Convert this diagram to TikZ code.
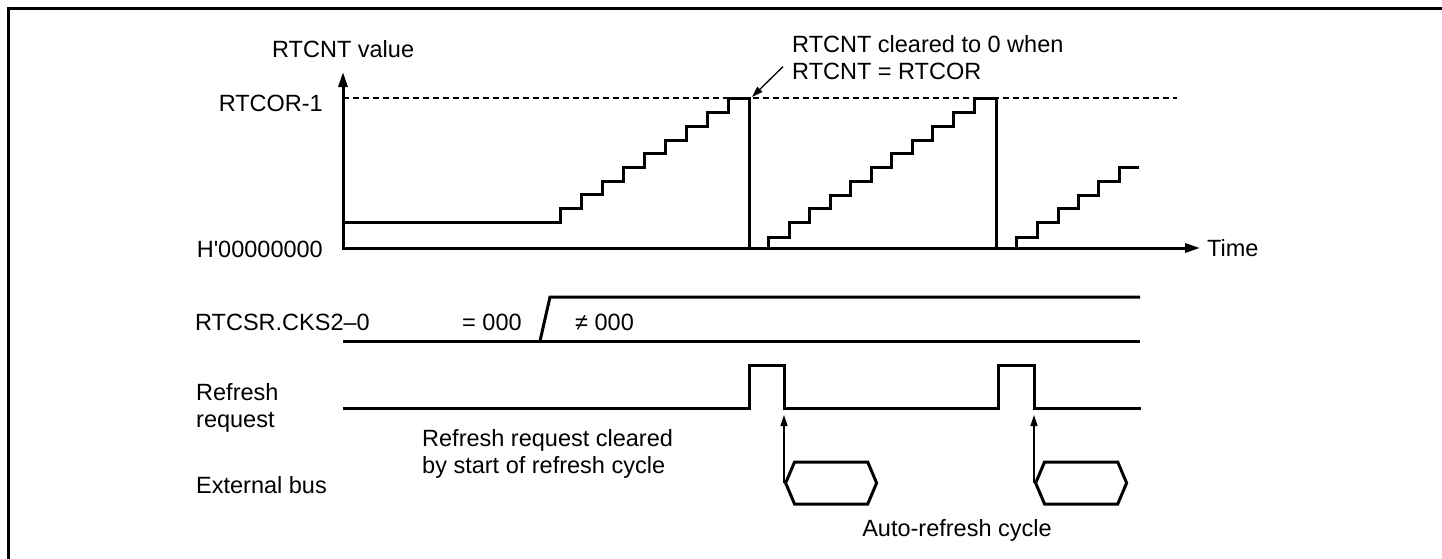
\documentclass[tikz,border=0pt]{standalone}
\usepackage{fontspec}
\setmainfont{Liberation Sans}
\usetikzlibrary{arrows.meta,shapes.symbols}
\begin{document}
\begin{tikzpicture}[x=1pt,y=-1pt,
    wave/.style={line width=3pt,line join=miter},
    lbl/.style={inner sep=0pt,font=\fontsize{23.5}{27}\selectfont},
    pointer/.style={line width=1.3pt,-{Triangle[length=11pt,width=7pt]}},
    bus/.style={draw,line width=3pt,signal,signal to=west and east,signal pointer angle=134,
                minimum width=91pt,minimum height=42pt,inner sep=0pt}]
    \useasboundingbox (0,0) rectangle (1442,558);
    \draw[line width=3pt] (8.5,600) -- (8.5,8.5) -- (1480,8.5);
    % RTCNT counter
    \draw[wave,{Triangle[length=15pt,width=9pt]}-{Triangle[length=15pt,width=9pt]}] (343,72) -- (343,248) -- (1200,248);
    \draw[dash pattern=on 6pt off 4pt,line width=1.4pt] (343,98) -- (1177,98);
    \draw[wave] (343,222) -- (560,222) |- (581,208) |- (602,194) |- (623,181) |- (644,167) |- (665,153)
        |- (686,140) |- (707,126) |- (728,112) |- (749,98) -- (749,248);
    \draw[wave] (749,248) -- (768,248) |- (789,237) |- (809,222) |- (830,208) |- (850,195) |- (871,181)
        |- (891,167) |- (912,153) |- (932,140) |- (953,126) |- (974,112) |- (996,98) -- (996,248);
    \draw[wave] (996,248) -- (1016,248) |- (1037,237) |- (1058,222) |- (1078,208) |- (1098,195)
        |- (1119,181) |- (1139,167);
    \node[lbl,anchor=base west] (cntlbl) at (272,57) {RTCNT value};
    \node[lbl,anchor=base east] (corlbl) at (323,111) {RTCOR-1};
    \node[lbl,anchor=base east] (zerolbl) at (323,257) {H\textquotesingle00000000};
    \node[lbl,anchor=base west] (timelbl) at (1207,256) {Time};
    \node[lbl,anchor=north west,align=left] (note) at (792,35) {RTCNT cleared to 0 when\\RTCNT = RTCOR};
    \coordinate (clr) at (752,97);
    \draw[pointer] ([xshift=-9pt,yshift=13pt]note.south west) -- (clr);
    % clock select
    \node[lbl,anchor=base west] (ckslbl) at (195,330) {RTCSR.CKS2--0};
    \draw[wave] (343,341) -- (1140,341);
    \draw[wave] (540,341) -- (550,297) -- (1140,297);
    \node[lbl,anchor=base west] (offlbl) at (462,330) {= 000};
    \node[lbl,anchor=base west] (onlbl) at (575,330) {≠ 000};
    % refresh request
    \node[lbl,anchor=north west,align=left] (reqlbl) at (196,383) {Refresh\\request};
    \draw[wave] (343,408) -- (749,408) -- (749,365) -- (784,365) -- (784,408) -- (998,408)
        -- (998,365) -- (1034,365) -- (1034,408) -- (1141,408);
    \node[lbl,anchor=north west,align=left] (clrlbl) at (422,429) {Refresh request cleared\\by start of refresh cycle};
    % external bus
    \node[lbl,anchor=base west] (buslbl) at (196,493) {External bus};
    \node[bus,anchor=west] (bus1) at (784,483) {};
    \node[bus,anchor=west] (bus2) at (1034,483) {};
    \coordinate (req1) at (784,415);
    \coordinate (req2) at (1034,415);
    \draw[pointer] (bus1.west) -- (req1);
    \draw[pointer] (bus2.west) -- (req2);
    \node[lbl,anchor=base] (arlbl) at (957,536) {Auto-refresh cycle};
\end{tikzpicture}
\end{document}
